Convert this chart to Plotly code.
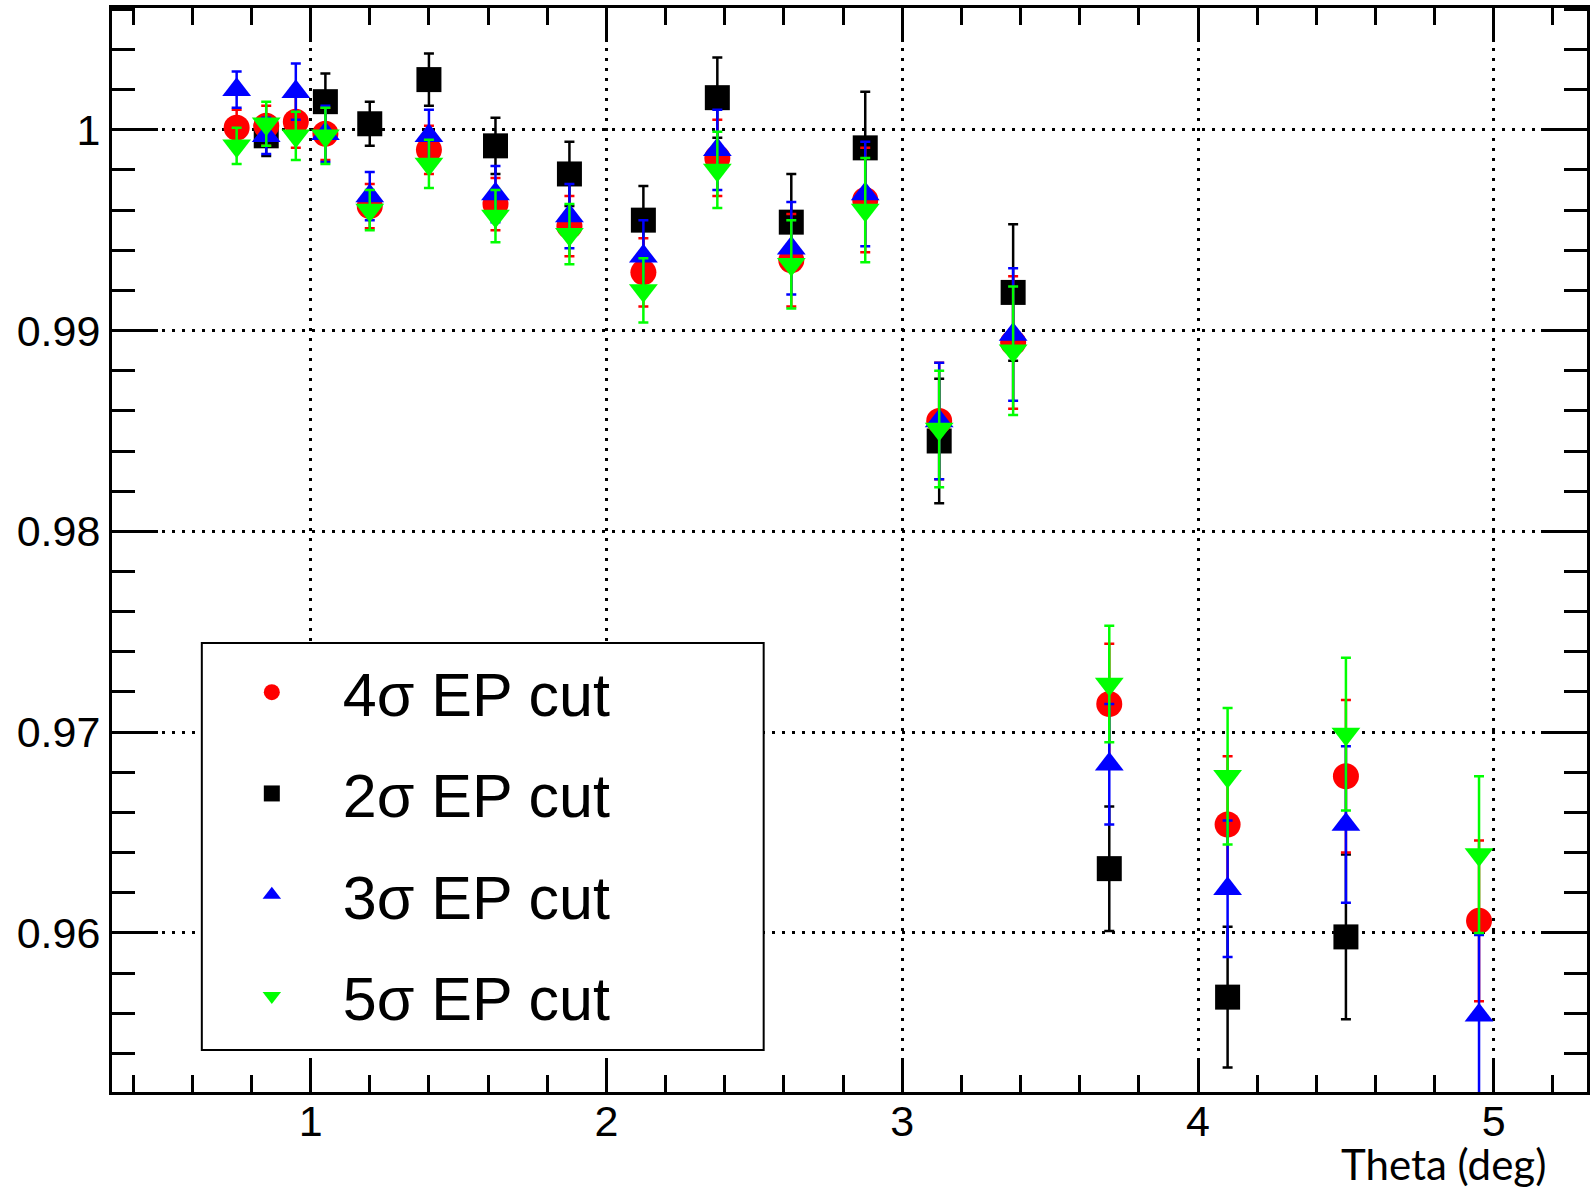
import plotly.graph_objects as go

# ---------------- data ----------------
theta = [0.75, 0.85, 0.95, 1.05, 1.2, 1.4, 1.625, 1.875, 2.125, 2.375,
         2.625, 2.875, 3.125, 3.375, 3.7, 4.1, 4.5, 4.95]

ratio_4sigma = [1.0001, 1.0002, 1.0004, 0.9998, 0.9962, 0.9990, 0.9963, 0.9952, 0.9929, 0.9986,
                0.9935, 0.9965, 0.9855, 0.9894, 0.9714, 0.9654, 0.9678, 0.9606]
err_4sigma = [0.0009, 0.0010, 0.0013, 0.0013, 0.0011, 0.0012, 0.0013, 0.0015, 0.0017, 0.0019,
              0.0023, 0.0026, 0.0029, 0.0033, 0.0030, 0.0034, 0.0038, 0.0040]

ratio_2sigma = [None, 0.9997, None, 1.0014, 1.0003, 1.0025, 0.9992, 0.9978, 0.9955, 1.0016,
                0.9954, 0.9991, 0.9845, 0.9919, 0.9632, 0.9568, 0.9598, None]
err_2sigma = [None, 0.0010, None, 0.0014, 0.0011, 0.0013, 0.0014, 0.0016, 0.0017, 0.0020,
              0.0024, 0.0028, 0.0031, 0.0034, 0.0031, 0.0035, 0.0041, None]

ratio_3sigma = [1.0020, 0.9997, 1.0019, 0.9998, 0.9967, 0.9997, 0.9968, 0.9957, 0.9937, 0.9990,
                0.9941, 0.9968, 0.9855, 0.9898, 0.9684, 0.9622, 0.9654, 0.9559]
err_3sigma = [0.0009, 0.0009, 0.0014, 0.0014, 0.0012, 0.0013, 0.0014, 0.0016, 0.0018, 0.0020,
              0.0023, 0.0026, 0.0029, 0.0033, 0.0030, 0.0034, 0.0039, 0.0040]

ratio_5sigma = [0.9992, 1.0003, 0.9997, 0.9997, 0.9960, 0.9983, 0.9957, 0.9948, 0.9920, 0.9980,
                0.9933, 0.9960, 0.9851, 0.9890, 0.9724, 0.9678, 0.9699, 0.9639]
err_5sigma = [0.0009, 0.0011, 0.0012, 0.0014, 0.0010, 0.0012, 0.0013, 0.0015, 0.0016, 0.0019,
              0.0022, 0.0026, 0.0029, 0.0032, 0.0029, 0.0034, 0.0038, 0.0039]

series_names = ["4σ EP cut", "2σ EP cut", "3σ EP cut", "5σ EP cut"]
x_tick_vals = [1, 2, 3, 4, 5]
x_tick_text = ["1", "2", "3", "4", "5"]
y_tick_vals = [0.96, 0.97, 0.98, 0.99, 1.0]
y_tick_text = ["0.96", "0.97", "0.98", "0.99", "1"]
x_title = "Theta (deg)"

# ---------------- layout geometry ----------------
W, H = 1590, 1188
ML, MR, MT, MB = 112, 0, 8, 96
PW, PH = W - ML - MR, H - MT - MB

X_RANGE = [0.3286, 5.315]
Y_RANGE = [0.952075, 1.006066]


def px_x(p):
    return (p - ML) / PW


def px_y(p):
    return (H - MB - p) / PH


FONT = "Liberation Sans, Arial, Helvetica, sans-serif"

fig = go.Figure()

styles = {
    "4σ EP cut": dict(color="#ff0000", symbol="circle", size=26, rank=1),
    "2σ EP cut": dict(color="#000000", symbol="square", size=25, rank=2),
    "3σ EP cut": dict(color="#0000ff", symbol="triangle-up", size=25, rank=3),
    "5σ EP cut": dict(color="#00ff00", symbol="triangle-down", size=25, rank=4),
}
data = {
    "4σ EP cut": (ratio_4sigma, err_4sigma),
    "2σ EP cut": (ratio_2sigma, err_2sigma),
    "3σ EP cut": (ratio_3sigma, err_3sigma),
    "5σ EP cut": (ratio_5sigma, err_5sigma),
}

# draw order: black first, then red, blue, green
for name in [series_names[1], series_names[0], series_names[2], series_names[3]]:
    st = styles[name]
    yv, ev = data[name]
    fig.add_trace(go.Scatter(
        x=theta, y=yv, mode="markers", name=name,
        legendrank=st["rank"], legendgroup=name,
        marker=dict(color=st["color"], symbol=st["symbol"], size=st["size"], line=dict(width=0)),
        error_y=dict(type="data", array=ev, visible=True, color=st["color"],
                     thickness=2.5, width=5),
    ))

axis_common = dict(
    showline=True, linecolor="black", linewidth=3, mirror="allticks",
    ticks="inside", tickcolor="black", tickwidth=2.5,
    showgrid=True, gridcolor="black", gridwidth=2.5, griddash="3px,7px",
    zeroline=False, tickmode="array",
    tickfont=dict(family=FONT, size=43, color="black"),
)

fig.update_xaxes(
    **axis_common, range=X_RANGE, tickvals=x_tick_vals, ticktext=x_tick_text,
    ticklen=34, ticklabelstandoff=-11,
    minor=dict(ticks="inside", ticklen=17, tickwidth=2.5, tickcolor="black",
               dtick=0.2, tick0=0, showgrid=False),
)
fig.update_yaxes(
    **axis_common, range=Y_RANGE, tickvals=y_tick_vals, ticktext=y_tick_text,
    ticklen=46,
    minor=dict(ticks="inside", ticklen=23, tickwidth=2.5, tickcolor="black",
               dtick=0.002, tick0=0.96, showgrid=False),
)

# legend frame
fig.add_shape(type="rect", xref="paper", yref="paper",
              x0=px_x(202), x1=px_x(765), y0=px_y(1050), y1=px_y(643),
              fillcolor="white", line=dict(color="black", width=2), layer="above")

fig.add_annotation(text=x_title, xref="paper", yref="paper",
                   x=px_x(1551), y=px_y(1164), xanchor="right", yanchor="middle",
                   showarrow=False, font=dict(family="Lato, sans-serif", size=42, color="black"))

fig.update_layout(
    width=W, height=H,
    margin=dict(l=ML, r=MR, t=MT, b=MB, pad=0),
    paper_bgcolor="white", plot_bgcolor="white",
    showlegend=True,
    legend=dict(
        x=px_x(201), y=px_y(646), xanchor="left", yanchor="top",
        bgcolor="rgba(0,0,0,0)", borderwidth=0,
        font=dict(family=FONT, size=61, color="black"),
        itemwidth=132, traceorder="grouped", tracegroupgap=19,
        itemsizing="trace",
    ),
)

fig.write_html("out.html")
